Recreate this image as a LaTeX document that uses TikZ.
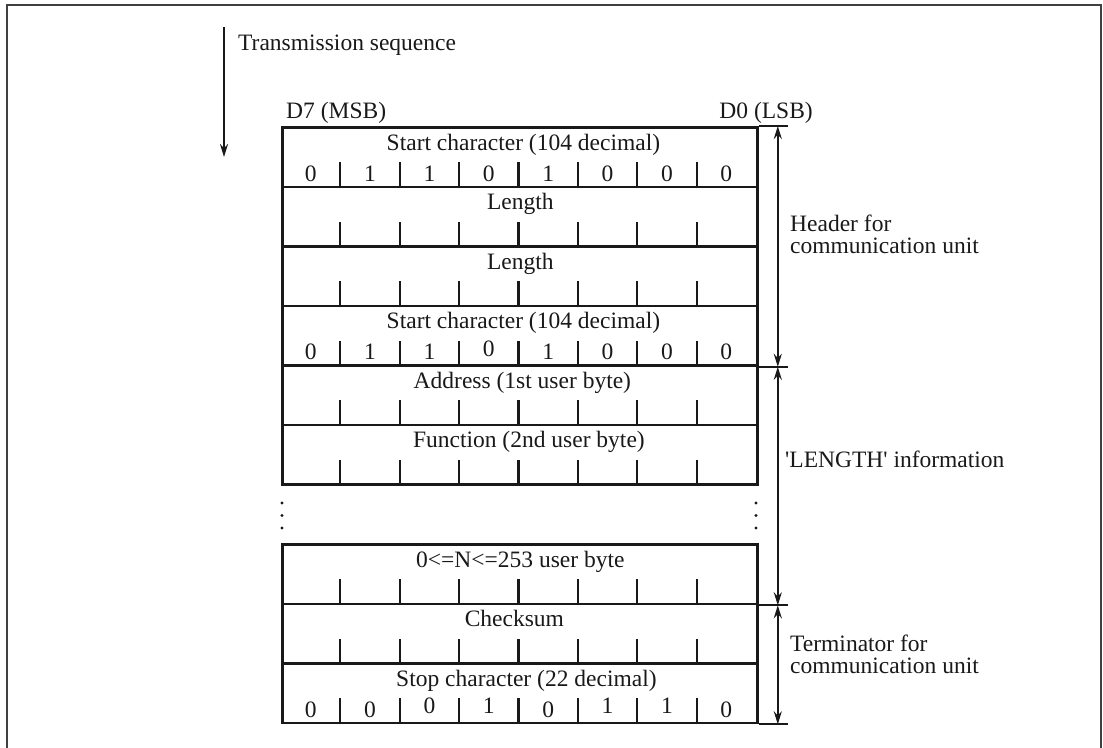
\documentclass[tikz,border=0pt]{standalone}
\usepackage{fontspec}
\setmainfont{Liberation Serif}
\usepackage{tikz}
\usetikzlibrary{shapes,arrows.meta,calc}

\begin{document}
\begin{tikzpicture}[x=1pt,y=-1pt,>={Stealth[length=13pt,width=8pt]},
    field/.style={draw=black!90,line width=2.8pt,minimum width=475pt,minimum height=59.5pt,inner sep=0pt,anchor=north west},
    tick/.style={draw=black!90,line width=2.2pt},
    guide/.style={draw=black!90,line width=2pt},
    lbl/.style={inner sep=0pt,text=black!90,font=\fontsize{23.5}{21.5}\selectfont}
    ]
            \useasboundingbox (0,0) rectangle (1103,747);
            \draw[line width=2.2pt,black!75] (7,760) -- (7,5) -- (1101,5) -- (1101,760);

            \node[lbl,anchor=base west] (seq) at (238,50) {Transmission sequence};
            \coordinate (seqtop) at (224,27);
            \coordinate (seqbot) at (224,157);
            \draw[guide,->] (seqtop) to (seqbot);

            \node[lbl,anchor=base west] (msb) at (286,118) {D7 (MSB)};
            \node[lbl,anchor=base east] (lsb) at (813,118) {D0 (LSB)};

            \foreach \n/\t/\dx/\title in {s1/126/3.5/Start character (104 decimal),
                len1/185.5/0.5/Length, len2/245/0.5/Length,
                s2/304.5/3.5/Start character (104 decimal),
                adr/364/2.5/Address (1st user byte), fct/423.5/9/Function (2nd user byte),
                usr/543/0.5/0<=N<=253 user byte, chk/602.5/-5.5/Checksum,
                stp/662/6.5/Stop character (22 decimal)}{
                \node[field] (\n) at (281,\t) {};
                \node[lbl,anchor=base] (\n-title) at ($(\n.north)+(\dx,24)$) {\title};
                \foreach \i in {1,...,7}
                    \draw[tick] ($(\n.south west)+(\i*59.375,0)$) -- ++(0,-26);
            }

            \foreach \n/\bits in {s1/{0/0,1/0,1/0,0/0,1/0,0/0,0/0,0/0},
                s2/{0/0,1/0,1/0,0/3,1/0,0/0,0/0,0/0},
                stp/{0/0,0/0,0/4,1/4,0/0,1/4,1/4,0/0}}
                \foreach \v/\r [count=\i] in \bits
                    \node[lbl,anchor=base] (\n-\i) at ($(\n.south west)+(\i*59.375-29.69,-7-\r)$) {\v};

            \foreach \y in {503,515.5,528}{
                \fill[black!90] (282,\y) circle (1.7);
                \fill[black!90] (756,\y) circle (1.7);
            }

            \coordinate (hA) at ($(s1.north east)+(19,0)$);
            \coordinate (hB) at ($(s2.south east)+(19,0)$);
            \coordinate (hC) at ($(usr.south east)+(19,0)$);
            \coordinate (hD) at ($(stp.south east)+(19,0)$);
            \draw[guide] (s1.north east) -- ++(29,0);
            \draw[guide] (s2.south east) -- ++(29,0);
            \draw[guide] (usr.south east) -- ++(29,0);
            \draw[guide] (stp.south east) -- ++(29,0);

            \draw[guide,<->] (hA) to (hB);
            \draw[guide,<->] (hB) to (hC);
            \draw[guide,<->] (hC) to (hD);

            \node[lbl,anchor=north west,align=left] (head) at (790,215) {Header for\\communication unit};
            \node[lbl,anchor=base west] (info) at (785,467) {\textquotesingle LENGTH\textquotesingle{} information};
            \node[lbl,anchor=north west,align=left] (term) at (790,635) {Terminator for\\communication unit};

        \end{tikzpicture}
\end{document}
